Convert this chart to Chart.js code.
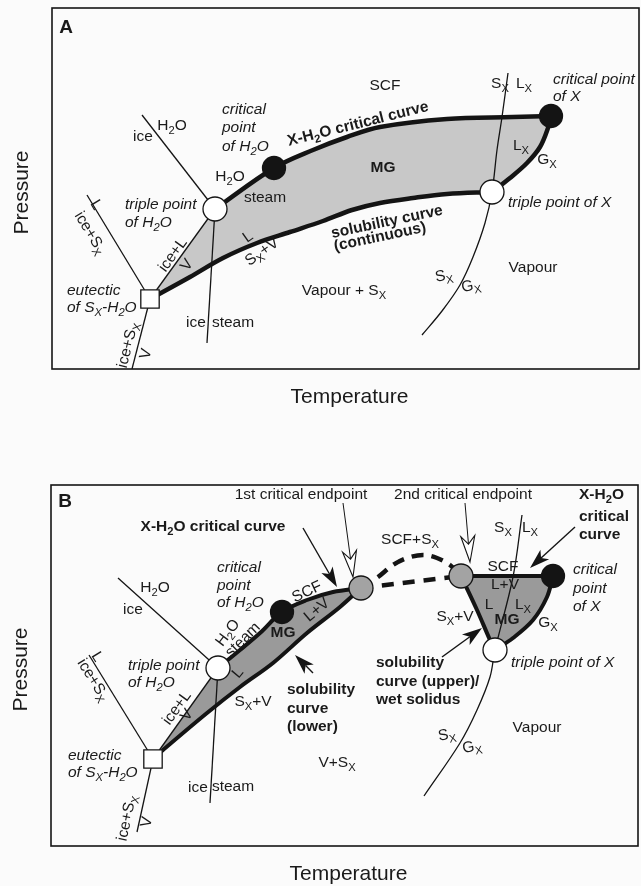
<!DOCTYPE html>
<html>
<head>
<meta charset="utf-8">
<script src="https://cdn.jsdelivr.net/npm/chart.js@4.4.0/dist/chart.umd.min.js"></script>
<style>
  html, body { margin: 0; padding: 0; overflow: hidden; background: #fbfbfb; }
  canvas { display: block; }
</style>
</head>
<body>
<canvas id="panelA" width="641" height="443"></canvas>
<canvas id="panelB" width="641" height="443"></canvas>
<script>
// Schematic P-T diagrams, arbitrary units: temperature 0-587, pressure 0-361

// ---- panel A: continuous critical curve ----
const aEutectic = [[98, 70]];
const aTriples = [[163, 160], [440, 177]];
const aCriticals = [[222, 201], [499, 253]];
const aCriticalCurve = [[163, 160], [222, 201], [261, 219], [295, 232], [328, 242], [395, 250], [461, 252], [499, 253]];
const aLiquidusX = [[440, 177], [458, 191], [475, 206], [488, 222], [496, 241], [499, 253]];
const aSolubility = [[98, 70], [138, 92], [171, 111], [205, 126], [238, 137], [271, 148], [300, 159], [328, 166], [361, 171], [395, 175], [440, 177]];
const aIceMelt = [[90, 254], [163, 160]];
const aIceSub = [[163, 160], [155, 26]];
const aIceLiquid = [[98, 70], [163, 160]];
const aEutecticUp = [[35, 174], [98, 70]];
const aEutecticDown = [[98, 70], [80, 0]];
const aMeltX = [[456, 296], [450, 252], [445, 219], [440, 177], [433, 146], [421, 112], [408, 84], [390, 58], [370, 34]];

// ---- panel B: critical curve interrupted by two endpoints ----
const bEutectic = [[102, 87]];
const bTriples = [[167, 178], [444, 196]];
const bCriticals = [[231, 234], [502, 270]];
const bEndpoints = [[310, 258], [410, 270]];
const bCriticalCurve = [[167, 178], [189, 196], [209, 213], [231, 234], [256, 246], [282, 254], [310, 258]];
const bSolubilityLower = [[102, 87], [112, 96], [156, 133], [189, 159], [222, 183], [256, 213], [289, 239], [310, 258]];
const bCriticalX = [[410, 270], [502, 270]];
const bLiquidusX = [[444, 196], [462, 208], [482, 226], [496, 249], [502, 270]];
const bSolubilityUpper = [[410, 270], [426, 236], [439, 206], [444, 196]];
const bArc = [[310, 258], [327, 269], [342, 281], [356, 288], [372, 291], [386, 288], [399, 281], [410, 270]];
const bChord = [[310, 258], [410, 270]];
const bIceMelt = [[67, 268], [167, 178]];
const bIceSub = [[167, 178], [159, 43]];
const bIceLiquid = [[102, 87], [167, 178]];
const bEutecticUp = [[38, 191], [102, 87]];
const bEutecticDown = [[102, 87], [86, 14]];
const bMeltX = [[471, 331], [462, 269], [444, 196], [439, 169], [426, 136], [409, 103], [373, 50]];

// labels: text, T, P, font (n/i/b + size), angle, align
const aLabels = [
  ['A', 14, 341, 'b19'],
  ['SCF', 333, 283],
  ['critical point', 501, 289, 'i', 0, 'l'], ['of X', 501, 272, 'i', 0, 'l'],
  ['S_X', 448, 285], ['L_X', 472, 285],
  ['L_X', 469, 223], ['G_X', 495, 209],
  ['MG', 331, 201, 'b'],
  ['X-H_2O critical curve', 306, 245, 'b', -14],
  ['critical', 170, 259, 'i', 0, 'l'], ['point', 170, 241, 'i', 0, 'l'], ['of H_2O', 170, 222, 'i', 0, 'l'],
  ['ice', 91, 232], ['H_2O', 120, 243],
  ['H_2O', 178, 192], ['steam', 213, 171],
  ['triple point', 73, 164, 'i', 0, 'l'], ['of H_2O', 73, 146, 'i', 0, 'l'],
  ['L', 44, 164, 'n', 59], ['ice+S_X', 38, 136, 'n', 59],
  ['ice+L', 121, 114, 'n', -54], ['V', 135, 104, 'n', -54],
  ['L', 196, 132, 'n', -35], ['S_X+V', 210, 117, 'n', -35],
  ['solubility curve', 335, 147, 'b', -12], ['(continuous)', 328, 132, 'b', -12],
  ['triple point of X', 456, 166, 'i', 0, 'l'],
  ['Vapour', 481, 101],
  ['Vapour + S_X', 292, 78],
  ['S_X', 392, 93, 'n', -10], ['G_X', 419, 83, 'n', -10],
  ['eutectic', 15, 78, 'i', 0, 'l'], ['of S_X-H_2O', 15, 61, 'i', 0, 'l'],
  ['ice', 144, 46], ['steam', 181, 46],
  ['ice+S_X', 76, 24, 'n', -76], ['V', 94, 15, 'n', -76]
];

const bLabels = [
  ['B', 14, 344, 'b19'],
  ['1st critical endpoint', 250, 351],
  ['2nd critical endpoint', 412, 351],
  ['X-H_2O', 528, 351, 'b', 0, 'l'], ['critical', 528, 329, 'b', 0, 'l'], ['curve', 528, 311, 'b', 0, 'l'],
  ['X-H_2O critical curve', 162, 319, 'b'],
  ['SCF+S_X', 359, 306],
  ['S_X', 452, 318], ['L_X', 479, 318],
  ['SCF', 452, 279], ['L+V', 454, 261],
  ['critical', 522, 276, 'i', 0, 'l'], ['point', 522, 257, 'i', 0, 'l'], ['of X', 522, 239, 'i', 0, 'l'],
  ['L', 438, 241], ['L_X', 472, 241], ['MG', 456, 226, 'b'], ['G_X', 497, 223],
  ['S_X+V', 404, 229],
  ['solubility', 325, 183, 'b', 0, 'l'], ['curve (upper)/', 325, 164, 'b', 0, 'l'], ['wet solidus', 325, 146, 'b', 0, 'l'],
  ['triple point of X', 460, 183, 'i', 0, 'l'],
  ['Vapour', 486, 118],
  ['S_X', 396, 111, 'n', -10], ['G_X', 421, 99, 'n', -10],
  ['V+S_X', 286, 83],
  ['solubility', 236, 156, 'b', 0, 'l'], ['curve', 236, 137, 'b', 0, 'l'], ['(lower)', 236, 119, 'b', 0, 'l'],
  ['S_X+V', 202, 144],
  ['critical', 166, 278, 'i', 0, 'l'], ['point', 166, 260, 'i', 0, 'l'], ['of H_2O', 166, 243, 'i', 0, 'l'],
  ['SCF', 256, 254, 'n', -25], ['L+V', 266, 236, 'n', -40],
  ['H_2O', 177, 213, 'n', -53], ['steam', 192, 206, 'n', -45], ['MG', 232, 213, 'b'],
  ['L', 187, 173, 'n', -50],
  ['H_2O', 104, 258], ['ice', 82, 236],
  ['triple point', 77, 180, 'i', 0, 'l'], ['of H_2O', 77, 163, 'i', 0, 'l'],
  ['L', 46, 189, 'n', 58], ['ice+S_X', 42, 166, 'n', 58],
  ['ice+L', 126, 138, 'n', -54], ['V', 136, 131, 'n', -54],
  ['eutectic', 17, 90, 'i', 0, 'l'], ['of S_X-H_2O', 17, 73, 'i', 0, 'l'],
  ['ice', 147, 58], ['steam', 182, 59],
  ['ice+S_X', 76, 28, 'n', -78], ['V', 96, 24, 'n', -78]
];

// arrows: tail T, tail P, head T, head P, head kind
const bArrows = [
  [252, 318, 286, 259, 'solid'],
  [292, 343, 302, 269, 'open'],
  [414, 343, 419, 284, 'open'],
  [524, 319, 479, 278, 'solid'],
  [262, 173, 244, 191, 'solid'],
  [391, 189, 431, 218, 'solid']
];

const INK = '#141414';
const FONT = '"Liberation Sans", Arial, sans-serif';

function xy(list) {
  return list.map(([x, y]) => ({ x, y }));
}

function curve(pts, width, extra) {
  return Object.assign({
    data: xy(pts), showLine: true, borderColor: INK, borderWidth: width,
    pointRadius: 0, tension: 0.35, fill: false, order: 4
  }, extra || {});
}

function marker(pts, style, radius, colour) {
  return {
    data: xy(pts), showLine: false, pointStyle: style, pointRadius: radius,
    pointBackgroundColor: colour, pointBorderColor: INK, pointBorderWidth: 1.3, order: 1
  };
}

// pair of borderless outlines, the first filled down to the second
function band(upper, lower, colour) {
  return [
    { data: xy(upper), showLine: true, borderColor: 'rgba(0,0,0,0)', pointRadius: 0, tension: 0,
      fill: '+1', backgroundColor: colour, order: 6 },
    { data: xy(lower), showLine: true, borderColor: 'rgba(0,0,0,0)', pointRadius: 0, tension: 0,
      fill: false, order: 6 }
  ];
}

// text with "_c" meaning subscript c
function drawRich(ctx, text, x, y, font, angle, align) {
  const style = font[0];
  const size = parseFloat(font.slice(1)) || 15.5;
  const prefix = (style === 'i' ? 'italic ' : '') + (style === 'b' ? 'bold ' : '');
  const big = `${prefix}${size}px ${FONT}`;
  const small = `${prefix}${(size * 0.72).toFixed(1)}px ${FONT}`;
  const parts = [];
  for (let i = 0; i < text.length; i++) {
    if (text[i] === '_' && i + 1 < text.length) {
      parts.push({ s: text[i + 1], sub: true });
      i++;
    } else if (parts.length && !parts[parts.length - 1].sub) {
      parts[parts.length - 1].s += text[i];
    } else {
      parts.push({ s: text[i], sub: false });
    }
  }
  let w = 0;
  parts.forEach(p => {
    ctx.font = p.sub ? small : big;
    p.w = ctx.measureText(p.s).width;
    w += p.w;
  });
  ctx.save();
  ctx.translate(x, y);
  ctx.rotate(angle * Math.PI / 180);
  ctx.textBaseline = 'middle';
  ctx.textAlign = 'left';
  ctx.fillStyle = '#1a1a1a';
  let cx = align === 'l' ? 0 : -w / 2;
  parts.forEach(p => {
    ctx.font = p.sub ? small : big;
    ctx.fillText(p.s, cx, p.sub ? size * 0.32 : 0);
    cx += p.w;
  });
  ctx.restore();
}

function drawArrow(ctx, x0, y0, x1, y1, kind) {
  const len = Math.hypot(x1 - x0, y1 - y0);
  const ux = (x1 - x0) / len, uy = (y1 - y0) / len;
  const nx = -uy, ny = ux;
  const open = kind === 'open';
  const hl = open ? 26 : 20, hw = open ? 7 : 6.5, notch = open ? 8 : 5;
  ctx.strokeStyle = INK;
  ctx.lineWidth = open ? 1 : 1.4;
  ctx.beginPath();
  ctx.moveTo(x0, y0);
  ctx.lineTo(x1 - ux * (hl - notch), y1 - uy * (hl - notch));
  ctx.stroke();
  ctx.beginPath();
  ctx.moveTo(x1, y1);
  ctx.lineTo(x1 - ux * hl + nx * hw, y1 - uy * hl + ny * hw);
  ctx.lineTo(x1 - ux * (hl - notch), y1 - uy * (hl - notch));
  ctx.lineTo(x1 - ux * hl - nx * hw, y1 - uy * hl - ny * hw);
  ctx.closePath();
  if (open) {
    ctx.fillStyle = '#fff';
    ctx.fill();
    ctx.lineWidth = 1.1;
    ctx.stroke();
  } else {
    ctx.fillStyle = INK;
    ctx.fill();
  }
}

const sketchPlugin = {
  id: 'sketch',
  afterDatasetsDraw(chart, args, opts) {
    const { ctx, chartArea: a, scales: { x, y } } = chart;
    ctx.save();
    ctx.strokeStyle = INK;
    ctx.lineWidth = 1.6;
    ctx.strokeRect(a.left, a.top, a.right - a.left, a.bottom - a.top);
    (opts.arrows || []).forEach(([t0, p0, t1, p1, kind]) =>
      drawArrow(ctx, x.getPixelForValue(t0), y.getPixelForValue(p0), x.getPixelForValue(t1), y.getPixelForValue(p1), kind));
    (opts.labels || []).forEach(([text, t, p, font = 'n', angle = 0, align = 'c']) =>
      drawRich(ctx, text, x.getPixelForValue(t), y.getPixelForValue(p), font, angle, align));
    drawRich(ctx, 'Pressure', a.left - 30, (a.top + a.bottom) / 2 + 4, 'n21', -90, 'c');
    drawRich(ctx, 'Temperature', (a.left + a.right) / 2 + 4, a.bottom + 28, 'n21', 0, 'c');
    ctx.restore();
  }
};

function panel(id, padding, datasets, labels, arrows) {
  return new Chart(document.getElementById(id), {
    type: 'scatter',
    data: { datasets },
    options: {
      responsive: false,
      animation: false,
      devicePixelRatio: 1,
      events: [],
      // big markers would otherwise push the frame inwards
      layout: { padding, autoPadding: false },
      scales: {
        x: { type: 'linear', min: 0, max: 587, display: false },
        y: { type: 'linear', min: 0, max: 361, display: false }
      },
      plugins: {
        legend: { display: false },
        tooltip: { enabled: false },
        sketch: { labels, arrows }
      }
    },
    plugins: [sketchPlugin]
  });
}

panel('panelA', { left: 52, top: 8, right: 2, bottom: 74 }, [
  ...band([aEutectic[0], ...aCriticalCurve], [...aSolubility, ...aLiquidusX.slice(1)], '#c8c8c8'),
  curve(aIceMelt, 1.3, { tension: 0, order: 5 }),
  curve(aIceSub, 1.3, { tension: 0, order: 5 }),
  curve(aIceLiquid, 1.3, { tension: 0, order: 5 }),
  curve(aEutecticUp, 1.3, { tension: 0, order: 5 }),
  curve(aEutecticDown, 1.3, { tension: 0, order: 5 }),
  curve(aMeltX, 1.3, { order: 5 }),
  curve(aCriticalCurve, 4.5),
  curve(aLiquidusX, 4.5),
  curve(aSolubility, 4.5),
  marker(aEutectic, 'rect', 13, '#fff'),
  marker(aTriples, 'circle', 12, '#fff'),
  marker(aCriticals, 'circle', 11.5, INK)
], aLabels, []);

panel('panelB', { left: 51, top: 42, right: 3, bottom: 40 }, [
  ...band([bEutectic[0], ...bCriticalCurve], bSolubilityLower, '#9a9a9a'),
  ...band(bCriticalX, [...bSolubilityUpper, ...bLiquidusX.slice(1)], '#9a9a9a'),
  curve(bIceMelt, 1.3, { tension: 0, order: 5 }),
  curve(bIceSub, 1.3, { tension: 0, order: 5 }),
  curve(bIceLiquid, 1.3, { tension: 0, order: 5 }),
  curve(bEutecticUp, 1.3, { tension: 0, order: 5 }),
  curve(bEutecticDown, 1.3, { tension: 0, order: 5 }),
  curve(bMeltX, 1.3, { order: 5 }),
  curve(bCriticalCurve, 4),
  curve(bSolubilityLower, 4),
  curve(bCriticalX, 4, { tension: 0 }),
  curve(bLiquidusX, 4),
  curve(bSolubilityUpper, 4),
  curve(bArc, 4.5, { borderDash: [12, 8] }),
  curve(bChord, 4.5, { tension: 0, borderDash: [12, 9] }),
  marker(bEutectic, 'rect', 13, '#fff'),
  marker(bTriples, 'circle', 12, '#fff'),
  marker(bCriticals, 'circle', 11.5, INK),
  marker(bEndpoints, 'circle', 12, '#a3a3a3')
], bLabels, bArrows);
</script>
</body>
</html>
